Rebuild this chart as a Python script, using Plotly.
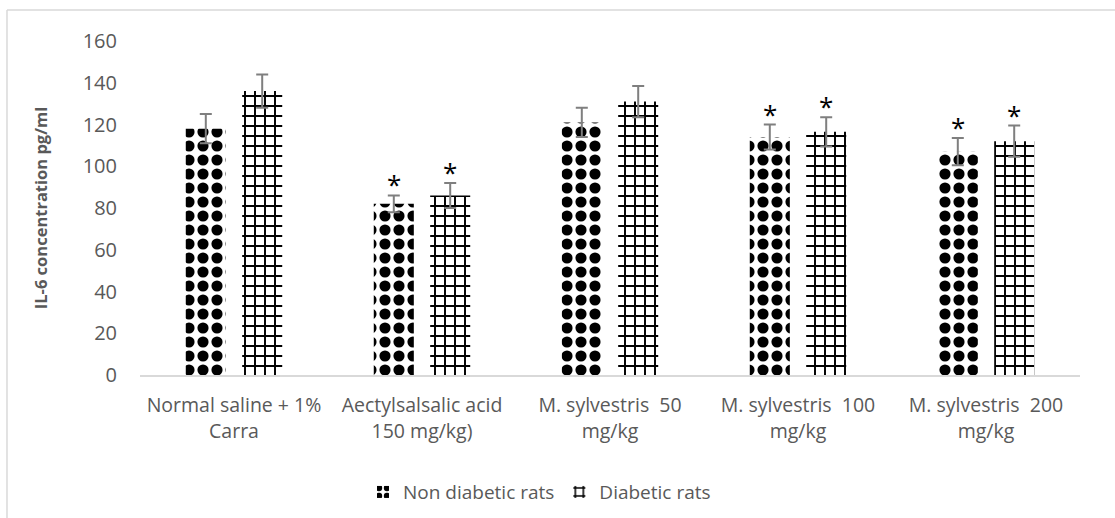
import plotly.graph_objects as go

# Treatment groups (x-axis categories)
categories = [
    "Normal saline + 1%<br>Carra",
    "Aectylsalsalic acid<br>150 mg/kg)",
    "M. sylvestris  50<br>mg/kg",
    "M. sylvestris  100<br>mg/kg",
    "M. sylvestris  200<br>mg/kg",
]

# IL-6 concentration (pg/ml) and error values
non_diabetic = [118, 82, 121, 114, 107]
non_diabetic_err = [7, 4, 7, 6, 6.5]
diabetic = [136, 86, 131, 116.5, 112]
diabetic_err = [8, 6, 7.5, 7, 7.5]

# Significance markers per group
non_diabetic_sig = ["", "*", "", "*", "*"]
diabetic_sig = ["", "*", "", "*", "*"]

y_ticks = [0, 20, 40, 60, 80, 100, 120, 140, 160]

TEXT = "#595959"
ERR = "#7f7f7f"
FONT = "Open Sans"

fig = go.Figure()

fig.add_trace(go.Bar(
    name="Non diabetic rats",
    x=categories,
    y=non_diabetic,
    error_y=dict(type="data", array=non_diabetic_err, color=ERR, thickness=2, width=6),
    marker=dict(
        color="white",
        line=dict(width=0),
        pattern=dict(shape=".", fgcolor="black", bgcolor="white", fgopacity=1,
                     size=14, solidity=0.5),
    ),
))

fig.add_trace(go.Bar(
    name="Diabetic rats",
    x=categories,
    y=diabetic,
    error_y=dict(type="data", array=diabetic_err, color=ERR, thickness=2, width=6),
    marker=dict(
        color="white",
        line=dict(width=0),
        pattern=dict(shape="+", fgcolor="black", bgcolor="white", fgopacity=1,
                     size=10, solidity=0.35),
    ),
))

# Asterisks above the error bars
annotations = []
for cat, v, e, s in zip(categories, non_diabetic, non_diabetic_err, non_diabetic_sig):
    if s:
        annotations.append(dict(x=cat, y=v + e, text=s, showarrow=False, xshift=-28,
                                yshift=11, font=dict(family=FONT, size=26, color="black")))
for cat, v, e, s in zip(categories, diabetic, diabetic_err, diabetic_sig):
    if s:
        annotations.append(dict(x=cat, y=v + e, text=s, showarrow=False, xshift=28,
                                yshift=11, font=dict(family=FONT, size=26, color="black")))

# Chart-area border (left and top edges)
shapes = [
    dict(type="line", xref="paper", yref="paper", x0=-0.1415, x1=-0.1415, y0=-0.45, y1=1.093,
         line=dict(color="#d9d9d9", width=1.5)),
    dict(type="line", xref="paper", yref="paper", x0=-0.1415, x1=1.1, y0=1.093, y1=1.093,
         line=dict(color="#d9d9d9", width=1.5)),
]

fig.update_layout(
    width=1115,
    height=518,
    margin=dict(l=140, r=35, t=41, b=143, autoexpand=False),
    paper_bgcolor="white",
    plot_bgcolor="white",
    barmode="group",
    bargap=0.40,
    bargroupgap=0.29,
    font=dict(family=FONT, color=TEXT, size=19),
    annotations=annotations,
    shapes=shapes,
    showlegend=True,
    legend=dict(orientation="h", x=0.425, xanchor="center", yref="container", y=0.05,
                yanchor="middle", font=dict(family=FONT, size=19, color=TEXT),
                itemsizing="constant"),
    xaxis=dict(
        showline=True, linecolor="#d9d9d9", linewidth=1.5, automargin=False,
        ticks="", ticklabelstandoff=12, tickfont=dict(family=FONT, size=19.5, color=TEXT),
        showgrid=False,
    ),
    yaxis=dict(
        range=[0, 160], tickvals=y_ticks, showgrid=False, zeroline=False, automargin=False,
        showline=False, ticks="", ticklabelstandoff=22,
        tickfont=dict(family=FONT, size=20, color=TEXT),
        title=dict(text="<b>IL-6 concentration pg/ml</b>", standoff=30,
                   font=dict(family=FONT, size=16.5, color=TEXT)),
    ),
)

fig.write_html("out.html")
